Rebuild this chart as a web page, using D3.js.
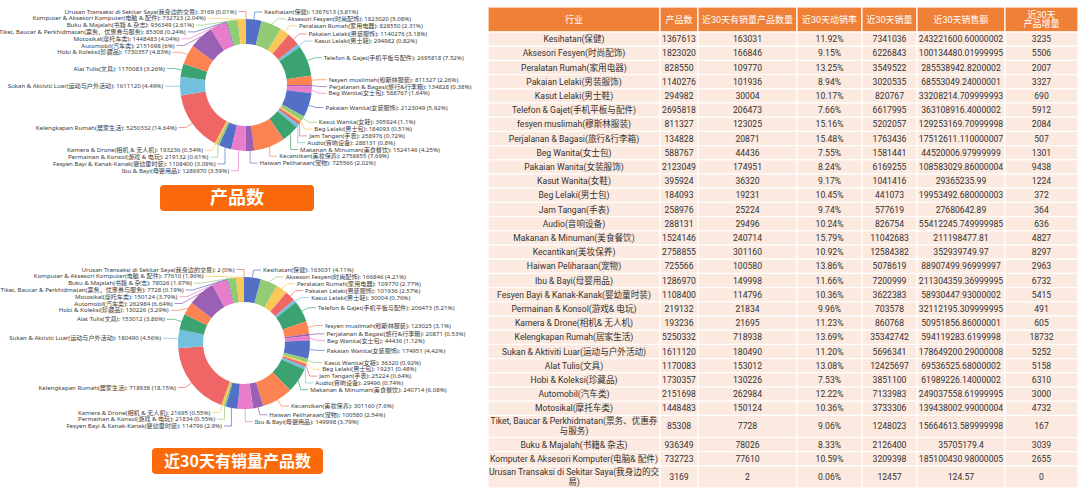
<!DOCTYPE html>
<html>
<head>
<meta charset="utf-8">
<script src="https://d3js.org/d3.v7.min.js"></script>
<style>
body { margin: 0; background: #fff; }
svg text { font-family: Roboto, "Noto Sans CJK SC", sans-serif; }
svg text.lbl { font-family: "Noto Sans", "Noto Sans CJK SC", sans-serif; }
</style>
</head>
<body>
<div id="chart"></div>
<script>
// categories (same order as the table rows)
var categories = [
  "Kesihatan(保健)", "Aksesori Fesyen(时尚配饰)", "Peralatan Rumah(家用电器)", "Pakaian Lelaki(男装服饰)",
  "Kasut Lelaki(男士鞋)", "Telefon & Gajet(手机平板与配件)", "fesyen muslimah(穆斯林服装)", "Perjalanan & Bagasi(旅行&行李箱)",
  "Beg Wanita(女士包)", "Pakaian Wanita(女装服饰)", "Kasut Wanita(女鞋)", "Beg Lelaki(男士包)", "Jam Tangan(手表)",
  "Audio(音响设备)", "Makanan & Minuman(美食餐饮)", "Kecantikan(美妆保养)", "Haiwan Peliharaan(宠物)", "Ibu & Bayi(母婴用品)",
  "Fesyen Bayi & Kanak-Kanak(婴幼童时装)", "Permainan & Konsol(游戏 & 电玩)", "Kamera & Drone(相机 & 无人机)",
  "Kelengkapan Rumah(居家生活)", "Sukan & Aktiviti Luar(运动与户外活动)", "Alat Tulis(文具)", "Hobi & Koleksi(珍藏品)",
  "Automobil(汽车类)", "Motosikal(摩托车类)", "Tiket, Baucar & Perkhidmatan(票务、优惠券与服务)", "Buku & Majalah(书籍 & 杂志)",
  "Komputer & Aksesori Komputer(电脑 & 配件)", "Urusan Transaksi di Sekitar Saya(我身边的交易)"
];
var products = [1367613, 1823020, 828550, 1140276, 294982, 2695818, 811327, 134828, 588767, 2123049, 395924, 184093, 258976,
  288131, 1524146, 2758855, 725566, 1286970, 1108400, 219132, 193236, 5250332, 1611120, 1170083, 1730357, 2151698, 1448483,
  85308, 936349, 732723, 3169];
var sold30 = [163031, 166846, 109770, 101936, 30004, 206473, 123025, 20871, 44436, 174951, 36320, 19231, 25224, 29496,
  240714, 301160, 100580, 149998, 114796, 21834, 21695, 718938, 180490, 153012, 130226, 262984, 150124, 7728, 78026, 77610, 2];
var rate30 = [11.92, 9.15, 13.25, 8.94, 10.17, 7.66, 15.16, 15.48, 7.55, 8.24, 9.17, 10.45, 9.74, 10.24, 15.79, 10.92, 13.86,
  11.66, 10.36, 9.96, 11.23, 13.69, 11.20, 13.08, 7.53, 12.22, 10.36, 9.06, 8.33, 10.59, 0.06];
var sales30 = [7341036, 6226843, 3549522, 3020535, 820767, 6617995, 5202057, 1763436, 1581441, 6169255, 1041416, 441073,
  577619, 826754, 11042683, 12584382, 5078619, 7200999, 3622383, 703578, 860768, 35342742, 5696341, 12425697, 3851100,
  7133983, 3733306, 1248023, 2126400, 3209398, 12457];
var revenue30 = ["243221600.60000002", "100134480.01999995", "285538942.8200002", "68553049.24000001", "33208214.709999993",
  "363108916.4000002", "129253169.70999998", "17512611.110000007", "44520006.97999999", "108583029.86000004", "29365235.99",
  "19953492.680000003", "27680642.89", "55412245.749999985", "211198477.81", "352939749.97", "88907499.96999997",
  "211304359.36999995", "58930447.93000002", "32112195.309999995", "50951856.86000001", "594119283.6199998",
  "178649200.29000008", "69536525.68000002", "61989226.14000002", "249037558.61999995", "139438002.99000004",
  "15664613.589999998", "35705179.4", "185100430.98000005", "124.57"];
var growth30 = [3235, 5506, 2007, 3327, 690, 5912, 2084, 507, 1301, 9438, 1224, 372, 364, 636, 4827, 8297, 2963, 6732, 5415,
  491, 605, 18732, 5252, 5158, 6310, 3000, 4732, 167, 3039, 2655, 0];
var headers = ["行业", "产品数", "近30天有销量产品数量", "近30天动销率", "近30天销量", "近30天销售额", "近30天\n产品增量"];
var titles = ["产品数", "近30天有销量产品数"];

var colors = ["#5470c6", "#91cc75", "#fac858", "#ee6666", "#73c0de", "#3ba272", "#fc8452", "#9a60b4", "#ea7ccc"];

var svg = d3.select("#chart").append("svg")
  .attr("width", 1080)
  .attr("height", 495);

// percentages the way echarts rounds them (largest remainder)
function percents(values) {
  var target = 10000;
  var sum = d3.sum(values);
  var votes = values.map(function(v) { return v / sum * target; });
  var seats = votes.map(Math.floor);
  var rem = votes.map(function(v, i) { return v - seats[i]; });
  var cur = d3.sum(seats);
  while (cur < target) {
    var mi = d3.maxIndex(rem);
    seats[mi]++; rem[mi] = 0; cur++;
  }
  return seats.map(function(s) { return s / 100; });
}

function drawDonut(values, cx, cy) {
  var rIn = 41, rOut = 66, len1 = 7.5, len2 = 7.5, R = rOut + len1, gap = 6.8;
  var pct = percents(values);
  var arcs = d3.pie().sort(null).value(function(d) { return d; })(values);
  var arc = d3.arc().innerRadius(rIn).outerRadius(rOut);
  var g = svg.append("g").attr("transform", "translate(" + cx + "," + cy + ")");

  g.selectAll("path.slice")
    .data(arcs)
    .join("path")
    .attr("class", "slice")
    .attr("d", arc)
    .attr("fill", function(d, i) { return colors[i % colors.length]; });

  var items = arcs.map(function(d, i) {
    var a = (d.startAngle + d.endAngle) / 2, s = Math.sin(a), c = -Math.cos(a);
    return { i: i, side: s < 0 ? -1 : 1, x0: rOut * s, y0: rOut * c, nx: R * s, ny: R * c, y: R * c };
  });

  // push overlapping labels apart on each side
  [-1, 1].forEach(function(side) {
    var list = items.filter(function(d) { return d.side === side; })
      .sort(function(a, b) { return a.ny - b.ny; });
    for (var k = 1; k < list.length; k++) {
      if (list[k].y < list[k - 1].y + gap) list[k].y = list[k - 1].y + gap;
    }
    list.forEach(function(d) {
      if (Math.abs(d.y - d.ny) < 0.01) d.x = d.nx;
      else {
        var dy = Math.abs(d.y);
        d.x = side * (dy < R ? Math.sqrt(R * R - dy * dy) : 0);
      }
      if (side * d.x < side * d.x0) d.x = d.x0;
    });
  });

  g.selectAll("path.lbl-line")
    .data(items)
    .join("path")
    .attr("class", "lbl-line")
    .attr("fill", "none")
    .attr("stroke", function(d) { return colors[d.i % colors.length]; })
    .attr("stroke-width", 0.7)
    .attr("d", function(d) {
      return "M" + d.x0 + "," + d.y0 + "L" + d.x + "," + d.y + "L" + (d.x + d.side * len2) + "," + d.y;
    });

  g.selectAll("text.lbl")
    .data(items)
    .join("text")
    .attr("class", "lbl")
    .attr("x", function(d) { return d.x + d.side * (len2 + 2); })
    .attr("y", function(d) { return d.y; })
    .attr("dy", "0.35em")
    .attr("text-anchor", function(d) { return d.side > 0 ? "start" : "end"; })
    .attr("font-size", 6.1)
    .attr("fill", "#3a3a3a")
    .text(function(d) { return categories[d.i] + ": " + values[d.i] + " (" + pct[d.i] + "%)"; });
}

function drawBanner(text, x, y, w, h, size) {
  svg.append("rect")
    .attr("x", x).attr("y", y).attr("width", w).attr("height", h)
    .attr("rx", 4).attr("fill", "#fa6a0c");
  svg.append("text")
    .attr("x", x + w / 2).attr("y", y + h / 2)
    .attr("dy", "0.36em")
    .attr("text-anchor", "middle")
    .attr("font-size", size)
    .attr("font-weight", "bold")
    .attr("fill", "#fff")
    .style("font-family", "'Noto Sans CJK SC', sans-serif")
    .text(text);
}

drawDonut(products, 246, 85);
drawBanner(titles[0], 160, 185, 154, 26, 18);
drawDonut(sold30, 244, 343);
drawBanner(titles[1], 152, 448, 171, 26, 16);

// ---------- table ----------
var colEdges = [488, 660, 698, 797, 862, 917, 1005, 1078];
var rows = categories.map(function(c, i) {
  return [c, products[i], sold30[i], rate30[i].toFixed(2) + "%", sales30[i], revenue30[i], growth30[i]];
});

var fs = 8.6;
var measure = svg.append("text").attr("font-size", fs).attr("x", -1000).attr("y", -1000);
function wrap(str, maxW) {
  var tokens = String(str).match(/[\u3000-\u9fff\uff00-\uffef]|[^\s\u3000-\u9fff\uff00-\uffef]+\s*/g) || [""];
  var lines = [], line = "";
  tokens.forEach(function(t) {
    measure.text(line + t);
    if (line && measure.node().getComputedTextLength() > maxW) { lines.push(line); line = t; }
    else line += t;
  });
  lines.push(line);
  return lines;
}

var cells = rows.map(function(r) {
  return r.map(function(v, j) { return wrap(v, colEdges[j + 1] - colEdges[j] - 1); });
});
measure.remove();

var headTop = 7, headH = 25, bodyBottom = 488;
var nLines = cells.map(function(r) { return d3.max(r, function(c) { return c.length; }); });
var units = d3.sum(nLines, function(n) { return n > 1 ? 1.556 : 1; });
var unitH = (bodyBottom - headTop - headH) / units;
var rowY = [], acc = headTop + headH;
nLines.forEach(function(n) { var h = n > 1 ? unitH * 1.556 : unitH; rowY.push([acc, h]); acc += h; });

var table = svg.append("g");

// header
var head = table.selectAll("g.head")
  .data(headers)
  .join("g")
  .attr("class", "head");
head.append("rect")
  .attr("x", function(d, j) { return colEdges[j]; })
  .attr("y", headTop)
  .attr("width", function(d, j) { return colEdges[j + 1] - colEdges[j]; })
  .attr("height", headH)
  .attr("fill", "#ef8037")
  .attr("stroke", "#fff")
  .attr("stroke-width", 1.2);
head.each(function(d, j) {
  var lines = d.split("\n");
  var t = d3.select(this).append("text")
    .attr("text-anchor", "middle")
    .attr("font-size", 9)
    .attr("fill", "#fff");
  lines.forEach(function(l, k) {
    t.append("tspan")
      .attr("x", (colEdges[j] + colEdges[j + 1]) / 2)
      .attr("y", headTop + headH / 2 + (k - (lines.length - 1) / 2) * 9.5)
      .attr("dy", "0.35em")
      .text(l);
  });
});

// body
var row = table.selectAll("g.row")
  .data(cells)
  .join("g")
  .attr("class", "row");
row.each(function(r, i) {
  var g = d3.select(this), y0 = rowY[i][0], h = rowY[i][1];
  r.forEach(function(lines, j) {
    g.append("rect")
      .attr("x", colEdges[j]).attr("y", y0)
      .attr("width", colEdges[j + 1] - colEdges[j]).attr("height", h)
      .attr("fill", "#fce9df")
      .attr("stroke", "#fff")
      .attr("stroke-width", 1.2);
    var t = g.append("text")
      .attr("text-anchor", "middle")
      .attr("font-size", fs)
      .attr("fill", "#333");
    lines.forEach(function(l, k) {
      t.append("tspan")
        .attr("x", (colEdges[j] + colEdges[j + 1]) / 2)
        .attr("y", y0 + h / 2 + (k - (lines.length - 1) / 2) * 10)
        .attr("dy", "0.35em")
        .text(l);
    });
  });
});
</script>
</body>
</html>
